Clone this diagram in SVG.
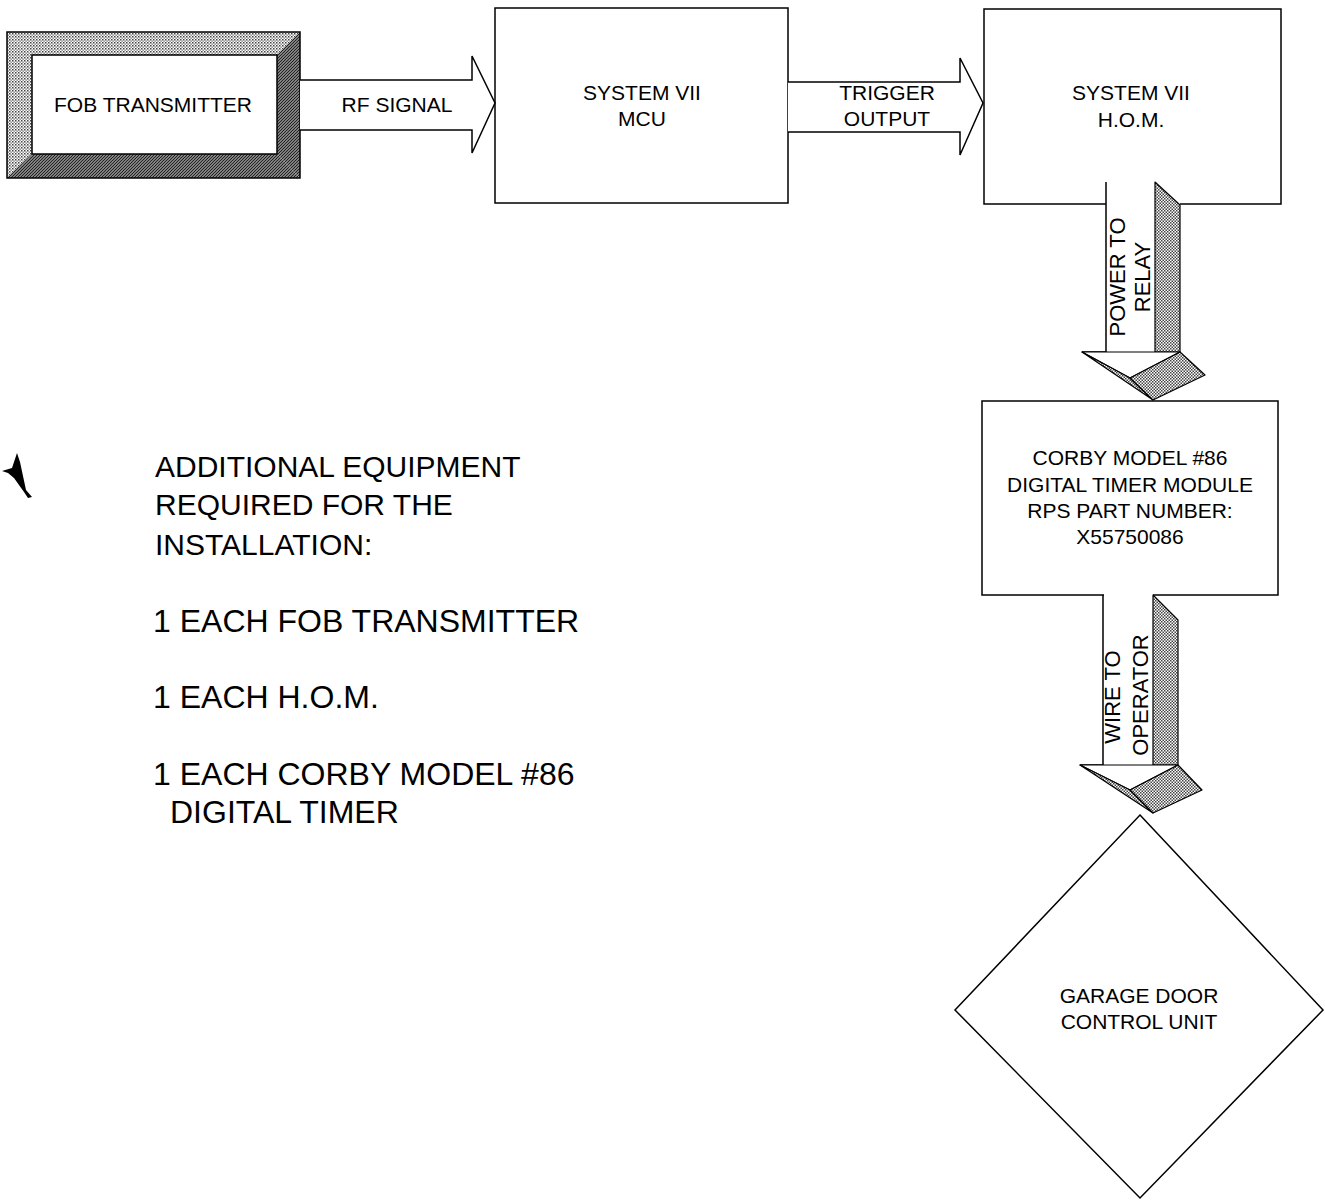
<svg xmlns="http://www.w3.org/2000/svg" width="1325" height="1200" viewBox="0 0 1325 1200">
<style>
.ln{fill:none;stroke:#000;stroke-width:1.5}
.box{fill:#fff;stroke:#000;stroke-width:1.5}
.wf{fill:#fff;stroke:none}
.sh{fill:url(#stip);stroke:#000;stroke-width:1.2;stroke-linejoin:round}
.t{font-family:"Liberation Sans",Arial,sans-serif;font-size:21px;fill:#000;text-anchor:middle}
.r{font-size:22px}
.big{font-family:"Liberation Sans",Arial,sans-serif;font-size:30px;fill:#000}
.big2{font-family:"Liberation Sans",Arial,sans-serif;font-size:32px;fill:#000}
</style>
<defs>
<pattern id="stip" width="3" height="3" patternUnits="userSpaceOnUse">
<rect width="3" height="3" fill="#fff"/>
<rect width="1.5" height="1.5" fill="#444"/>
<rect x="1.5" y="1.5" width="1.5" height="1.5" fill="#444"/>
</pattern>
<pattern id="light" width="3" height="3" patternUnits="userSpaceOnUse">
<rect width="3" height="3" fill="#fff"/>
<rect width="1.5" height="1.5" fill="#444"/>
<rect x="1.5" y="1.5" width="1.3" height="1.3" fill="#666"/>
</pattern>
<pattern id="dark" width="3" height="3" patternUnits="userSpaceOnUse">
<rect width="3" height="3" fill="#ccc"/>
<path d="M-1,1 L1,-1 M0,3 L3,0 M2,4 L4,2" stroke="#222" stroke-width="1.3"/>
</pattern>
</defs>
<rect width="1325" height="1200" fill="#fff"/>

<g id="fob-transmitter">
<polygon points="7,32 300,32 277,55 32,55" fill="url(#light)"/>
<polygon points="7,32 32,55 32,154 7,178" fill="url(#light)"/>
<polygon points="300,32 300,178 277,154 277,55" fill="url(#dark)"/>
<polygon points="7,178 32,154 277,154 300,178" fill="url(#dark)"/>
<rect x="7" y="32" width="293" height="146" class="ln"/>
<rect x="32" y="55" width="245" height="99" class="ln"/>
<text x="153" y="112" class="t">FOB TRANSMITTER</text>
</g>

<g id="mcu">
<rect x="495" y="8" width="293" height="195" class="box"/>
<text x="642" y="100" class="t">SYSTEM VII</text>
<text x="642" y="126" class="t">MCU</text>
</g>

<g id="hom">
<rect x="984" y="9" width="297" height="195" class="box"/>
<text x="1131" y="100" class="t">SYSTEM VII</text>
<text x="1131" y="127" class="t">H.O.M.</text>
</g>

<g id="timer">
<rect x="982" y="401" width="296" height="194" class="box"/>
<text x="1130" y="465" class="t">CORBY MODEL #86</text>
<text x="1130" y="492" class="t">DIGITAL TIMER MODULE</text>
<text x="1130" y="518" class="t">RPS PART NUMBER:</text>
<text x="1130" y="544" class="t">X55750086</text>
</g>

<g id="garage-door">
<polygon points="1140,815 1323,1010 1140,1198 955,1010" class="box"/>
<text x="1139" y="1003" class="t">GARAGE DOOR</text>
<text x="1139" y="1029" class="t">CONTROL UNIT</text>
</g>

<g id="connectors">
<g id="rf-signal">
<path d="M300,80 H472 V56 L495,103 L472,153 V130 H300 Z" class="wf"/>
<path d="M300,80 H472 V56 L495,103 L472,153 V130 H300" class="ln"/>
<text x="397" y="112" class="t">RF SIGNAL</text>
</g>
<g id="trigger-output">
<path d="M788,82 H960 V58 L983,103 L960,155 V132 H788 Z" class="wf"/>
<path d="M788,82 H960 V58 L983,103 L960,155 V132 H788" class="ln"/>
<text x="887" y="100" class="t">TRIGGER</text>
<text x="887" y="126" class="t">OUTPUT</text>
</g>
<g id="power-to-relay">
<rect x="1106" y="183" width="74" height="170" class="wf"/>
<path d="M1106,182 V352 H1082" class="ln"/>
<polygon points="1155,182 1180,205 1180,352 1155,352" class="sh"/>
<polygon points="1082,352 1180,352 1130,378" fill="#fff" stroke="#000" stroke-width="1.2" stroke-linejoin="round"/>
<polygon points="1082,352 1130,378 1153,400" class="sh"/>
<polygon points="1130,378 1180,352 1205,375 1153,400" class="sh"/>
<text transform="translate(1125,277) rotate(-90)" class="t r">POWER TO</text>
<text transform="translate(1150,277) rotate(-90)" class="t r">RELAY</text>
</g>
<g id="wire-to-operator">
<rect x="1104" y="594" width="49" height="172" class="wf"/>
<path d="M1103,595 V765 H1080" class="ln"/>
<polygon points="1153,595 1178,620 1178,765 1153,765" class="sh"/>
<polygon points="1080,765 1178,765 1130,790" fill="#fff" stroke="#000" stroke-width="1.2" stroke-linejoin="round"/>
<polygon points="1080,765 1130,790 1153,813" class="sh"/>
<polygon points="1130,790 1178,765 1202,790 1153,813" class="sh"/>
<text transform="translate(1120,697) rotate(-90)" class="t r">WIRE TO</text>
<text transform="translate(1148,695) rotate(-90)" class="t r">OPERATOR</text>
</g>
</g>

<g id="notes">
<text x="155" y="477" class="big">ADDITIONAL EQUIPMENT</text>
<text x="155" y="515" class="big">REQUIRED FOR THE</text>
<text x="155" y="555" class="big">INSTALLATION:</text>
<text x="153" y="632" class="big2">1 EACH FOB TRANSMITTER</text>
<text x="153" y="708" class="big2">1 EACH H.O.M.</text>
<text x="153" y="785" class="big2">1 EACH CORBY MODEL #86</text>
<text x="170" y="823" class="big2">DIGITAL TIMER</text>
</g>

<polygon points="2,471 12,468 17,453 20,462 26,490 32,497 28,498 24,492 14,478 8,473" fill="#000"/>
</svg>
